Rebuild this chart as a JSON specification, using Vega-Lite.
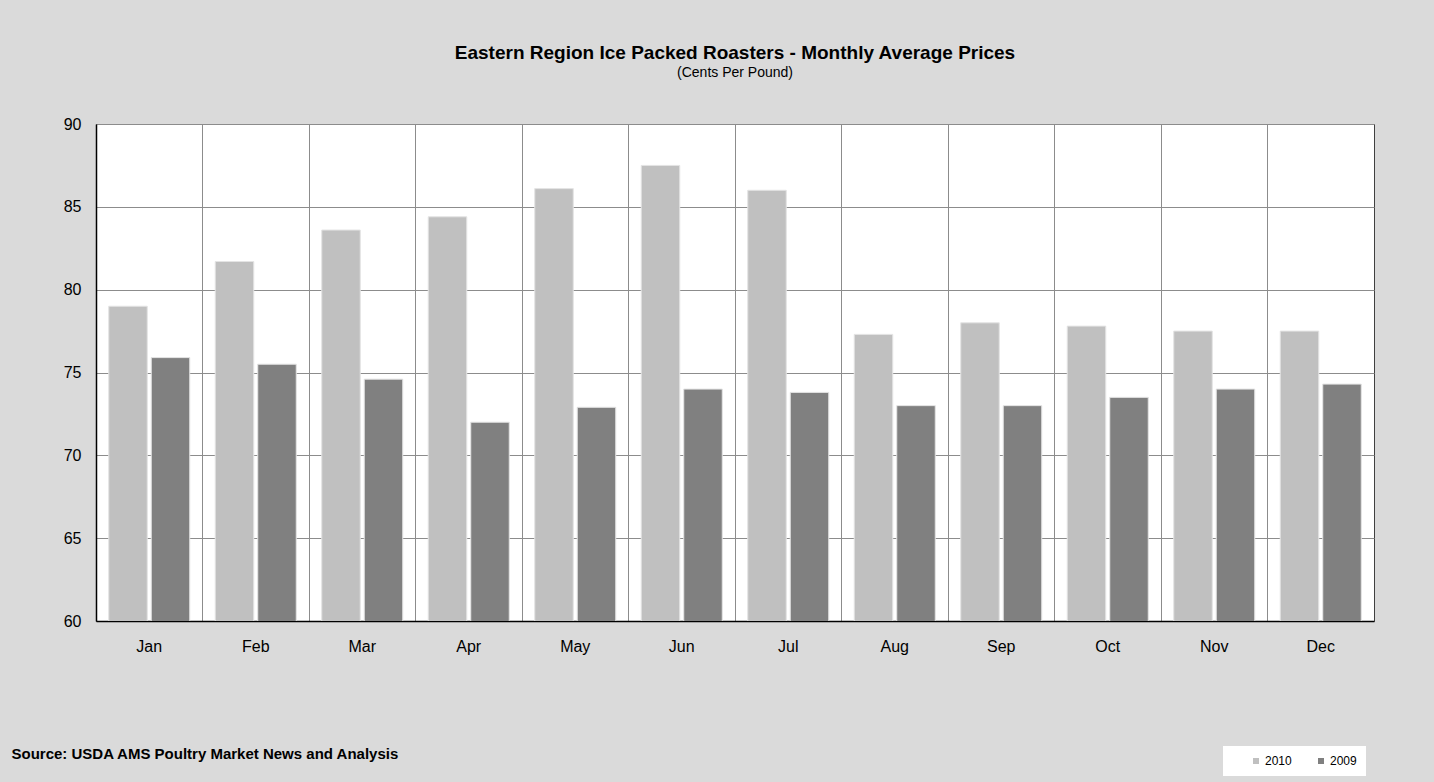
{
  "$schema": "https://vega.github.io/schema/vega-lite/v6.json",
  "autosize": {"type": "none"},
  "width": 1278,
  "height": 497,
  "padding": {"left": 96, "top": 124, "right": 60, "bottom": 161},
  "background": "#dadada",
  "title": {
    "text": "Eastern Region Ice Packed Roasters - Monthly Average Prices",
    "subtitle": "(Cents Per Pound)",
    "anchor": "middle",
    "font": "Liberation Sans",
    "fontSize": 19,
    "fontWeight": "bold",
    "color": "#000000",
    "subtitleFont": "Liberation Sans",
    "subtitleFontSize": 14,
    "subtitleColor": "#000000",
    "subtitlePadding": 3,
    "offset": 36
  },
  "data": {
    "values": [
      {"month": "Jan", "year": "2010", "price": 79.0},
      {"month": "Jan", "year": "2009", "price": 75.9},
      {"month": "Feb", "year": "2010", "price": 81.7},
      {"month": "Feb", "year": "2009", "price": 75.5},
      {"month": "Mar", "year": "2010", "price": 83.6},
      {"month": "Mar", "year": "2009", "price": 74.6},
      {"month": "Apr", "year": "2010", "price": 84.4},
      {"month": "Apr", "year": "2009", "price": 72.0},
      {"month": "May", "year": "2010", "price": 86.1},
      {"month": "May", "year": "2009", "price": 72.9},
      {"month": "Jun", "year": "2010", "price": 87.5},
      {"month": "Jun", "year": "2009", "price": 74.0},
      {"month": "Jul", "year": "2010", "price": 86.0},
      {"month": "Jul", "year": "2009", "price": 73.8},
      {"month": "Aug", "year": "2010", "price": 77.3},
      {"month": "Aug", "year": "2009", "price": 73.0},
      {"month": "Sep", "year": "2010", "price": 78.0},
      {"month": "Sep", "year": "2009", "price": 73.0},
      {"month": "Oct", "year": "2010", "price": 77.8},
      {"month": "Oct", "year": "2009", "price": 73.5},
      {"month": "Nov", "year": "2010", "price": 77.5},
      {"month": "Nov", "year": "2009", "price": 74.0},
      {"month": "Dec", "year": "2010", "price": 77.5},
      {"month": "Dec", "year": "2009", "price": 74.3}
    ]
  },
  "mark": {"type": "bar", "stroke": "#e4e4e4", "strokeWidth": 1, "clip": true},
  "encoding": {
    "x": {
      "field": "month",
      "type": "nominal",
      "sort": ["Jan","Feb","Mar","Apr","May","Jun","Jul","Aug","Sep","Oct","Nov","Dec"],
      "scale": {"paddingInner": 0, "paddingOuter": 0},
      "axis": {
        "title": "Source: USDA AMS Poultry Market News and Analysis",
        "titleFont": "Liberation Sans",
        "titleFontSize": 15,
        "titleFontWeight": "bold",
        "titleColor": "#000000",
        "titleAlign": "left",
        "titleAnchor": null,
        "titleBaseline": "middle",
        "titleX": -85,
        "titleY": 132,
        "labelAngle": 0,
        "labelFont": "Liberation Sans",
        "labelFontSize": 16,
        "labelColor": "#000000",
        "labelPadding": 17,
        "ticks": false,
        "domain": true,
        "domainColor": "#000000",
        "domainWidth": 1.5,
        "grid": true,
        "gridColor": "#8c8c8c",
        "gridWidth": 1,
        "bandPosition": 0
      }
    },
    "xOffset": {
      "field": "year",
      "type": "nominal",
      "scale": {"domain": ["2010", "2009"], "paddingInner": 0.094, "paddingOuter": 0.3}
    },
    "y": {
      "field": "price",
      "type": "quantitative",
      "scale": {"domain": [60, 90], "zero": false, "nice": false},
      "axis": {
        "title": null,
        "values": [60, 65, 70, 75, 80, 85, 90],
        "labelFont": "Liberation Sans",
        "labelFontSize": 16,
        "labelColor": "#000000",
        "labelPadding": 15,
        "ticks": false,
        "domain": true,
        "domainColor": "#000000",
        "domainWidth": 1.5,
        "grid": true,
        "gridColor": "#8c8c8c",
        "gridWidth": 1
      }
    },
    "color": {
      "field": "year",
      "type": "nominal",
      "scale": {"domain": ["2010", "2009"], "range": ["#c0c0c0", "#808080"]},
      "legend": {
        "title": " ",
        "titleOrient": "left",
        "titleFontSize": 12,
        "titlePadding": 18,
        "orient": "none",
        "legendX": 1127,
        "legendY": 622,
        "direction": "horizontal",
        "fillColor": "#ffffff",
        "padding": 9,
        "symbolType": "square",
        "symbolSize": 36,
        "symbolStrokeWidth": 0,
        "labelFont": "Liberation Sans",
        "labelFontSize": 12,
        "labelColor": "#000000",
        "labelOffset": 3,
        "labelExpr": "datum.value == '2009' ? '2009\u2003\u2002' : datum.label",
        "columnPadding": 23
      }
    }
  },
  "config": {
    "view": {"fill": "#ffffff", "stroke": "#404040", "strokeWidth": 1}
  }
}
